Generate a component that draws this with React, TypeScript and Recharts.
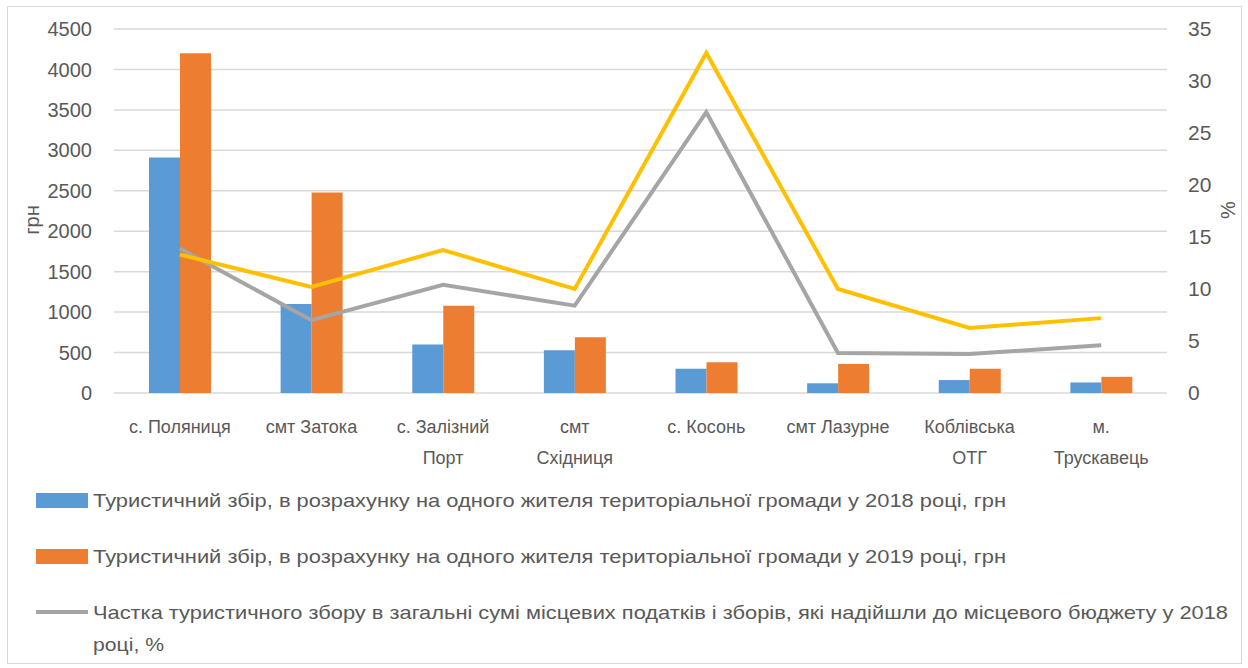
import React from "react";
import {
  ComposedChart,
  Bar,
  Line,
  XAxis,
  YAxis,
  CartesianGrid,
} from "recharts";

const categories = [
  "с. Поляниця",
  "смт Затока",
  "с. Залізний\nПорт",
  "смт\nСхідниця",
  "с. Косонь",
  "смт Лазурне",
  "Коблівська\nОТГ",
  "м.\nТрускавець",
];
const tax2018 = [2910, 1100, 600, 530, 300, 120, 160, 130];
const tax2019 = [4200, 2480, 1080, 690, 380, 360, 300, 200];
const share2018 = [13.9, 7.0, 10.4, 8.4, 27.0, 3.85, 3.75, 4.6];
const share2019 = [13.3, 10.2, 13.75, 10.0, 32.7, 10.0, 6.25, 7.2];
const leftTicks = [0, 500, 1000, 1500, 2000, 2500, 3000, 3500, 4000, 4500];
const rightTicks = [0, 5, 10, 15, 20, 25, 30, 35];
const leftAxisTitle = "грн";
const rightAxisTitle = "%";
const legendLabels = [
  "Туристичний збір, в розрахунку на одного жителя територіальної громади у 2018 році, грн",
  "Туристичний збір, в розрахунку на одного жителя територіальної громади у 2019 році, грн",
  "Частка туристичного збору в загальні сумі місцевих податків і зборів, які надійшли до місцевого бюджету у 2018",
  "році, %",
];

const data = categories.map((name, i) => ({
  name,
  v2018: tax2018[i],
  v2019: tax2019[i],
  s2018: share2018[i],
  s2019: share2019[i],
}));

const TEXT = "#595959";
const FONT = "'Liberation Sans', Arial, sans-serif";

const XTick = (props: any) => {
  const { x, y, payload } = props;
  const lines = String(payload.value).split("\n");
  return (
    <g>
      {lines.map((l: string, i: number) => (
        <text
          key={i}
          x={x}
          y={y + 32 + i * 31}
          textAnchor="middle"
          fill={TEXT}
          fontSize={18}
          fontFamily={FONT}
        >
          {l}
        </text>
      ))}
    </g>
  );
};

export default function App() {
  return (
    <div
      style={{
        position: "absolute",
        left: 0,
        top: 0,
        width: 1248,
        height: 668,
        background: "#fff",
        fontFamily: FONT,
      }}
    >
      <div
        style={{
          position: "absolute",
          left: 7,
          top: 6,
          width: 1235,
          height: 658,
          border: "1px solid #d9d9d9",
          boxSizing: "border-box",
        }}
      />
      <div style={{ position: "absolute", left: 0, top: 0 }}>
        <ComposedChart
          width={1248}
          height={668}
          data={data}
          margin={{ top: 29, right: 0, bottom: 200, left: 0 }}
          barGap={0}
          barSize={31}
        >
          <CartesianGrid
            vertical={false}
            stroke="#d9d9d9"
            strokeWidth={1.5}
            yAxisId="left"
          />
          <XAxis
            dataKey="name"
            height={75}
            axisLine={false}
            tickLine={false}
            interval={0}
            tick={<XTick />}
          />
          <YAxis
            yAxisId="left"
            orientation="left"
            width={114}
            domain={[0, 4500]}
            ticks={leftTicks}
            axisLine={false}
            tickLine={false}
            tickMargin={16}
            tick={{ fill: TEXT, fontSize: 20, fontFamily: FONT }}
          />
          <YAxis
            yAxisId="right"
            orientation="right"
            width={81}
            domain={[0, 35]}
            ticks={rightTicks}
            axisLine={false}
            tickLine={false}
            tickMargin={15}
            tick={{ fill: TEXT, fontSize: 21, fontFamily: FONT, textAnchor: "start" }}
          />
          <Bar
            yAxisId="left"
            dataKey="v2018"
            fill="#5B9BD5"
            isAnimationActive={false}
          />
          <Bar
            yAxisId="left"
            dataKey="v2019"
            fill="#ED7D31"
            isAnimationActive={false}
          />
          <Line
            yAxisId="right"
            dataKey="s2018"
            stroke="#A5A5A5"
            strokeWidth={4}
            dot={false}
            isAnimationActive={false}
          />
          <Line
            yAxisId="right"
            dataKey="s2019"
            stroke="#FFC000"
            strokeWidth={4}
            dot={false}
            isAnimationActive={false}
          />
        </ComposedChart>
      </div>
      <svg
        width={1248}
        height={668}
        style={{ position: "absolute", left: 0, top: 0, pointerEvents: "none" }}
      >
        <text
          x={0}
          y={0}
          transform="translate(39 220) rotate(-90)"
          textAnchor="middle"
          fill={TEXT}
          fontSize={20}
          fontFamily={FONT}
        >
          {leftAxisTitle}
        </text>
        <text
          x={0}
          y={0}
          transform="translate(1235 210) rotate(-90)"
          textAnchor="middle"
          fill={TEXT}
          fontSize={20}
          fontFamily={FONT}
        >
          {rightAxisTitle}
        </text>
        <rect x={36} y={493} width={52} height={15} fill="#5B9BD5" />
        <text
          x={93}
          y={507}
          fill={TEXT}
          fontSize={19}
          fontFamily={FONT}
          textLength={913}
          lengthAdjust="spacingAndGlyphs"
        >
          {legendLabels[0]}
        </text>
        <rect x={36} y={549} width={52} height={15} fill="#ED7D31" />
        <text
          x={93}
          y={563}
          fill={TEXT}
          fontSize={19}
          fontFamily={FONT}
          textLength={913}
          lengthAdjust="spacingAndGlyphs"
        >
          {legendLabels[1]}
        </text>
        <line x1={36} y1={612} x2={88} y2={612} stroke="#A5A5A5" strokeWidth={4} />
        <text
          x={93}
          y={619}
          fill={TEXT}
          fontSize={19}
          fontFamily={FONT}
          textLength={1135}
          lengthAdjust="spacingAndGlyphs"
        >
          {legendLabels[2]}
        </text>
        <text
          x={93}
          y={651}
          fill={TEXT}
          fontSize={19}
          fontFamily={FONT}
          textLength={71}
          lengthAdjust="spacingAndGlyphs"
        >
          {legendLabels[3]}
        </text>
      </svg>
    </div>
  );
}
